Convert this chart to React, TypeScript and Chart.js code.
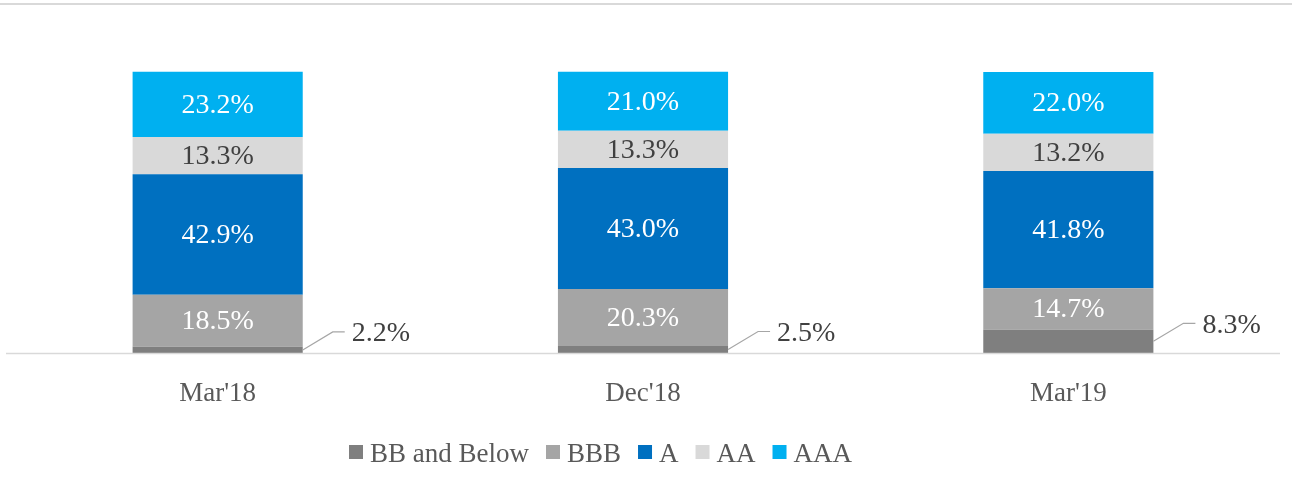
import React, { useEffect, useRef } from "react";
import { Chart, registerables } from "chart.js";
Chart.register(...registerables);

const categories = ["Mar'18", "Dec'18", "Mar'19"];
const seriesNames = ["BB and Below", "BBB", "A", "AA", "AAA"];
const bbAndBelow = [2.2, 2.5, 8.3];
const bbb = [18.5, 20.3, 14.7];
const ratingA = [42.9, 43.0, 41.8];
const ratingAA = [13.3, 13.3, 13.2];
const ratingAAA = [23.2, 21.0, 22.0];

const seriesValues = [bbAndBelow, bbb, ratingA, ratingAA, ratingAAA];
const seriesColors = ["#7f7f7f", "#a5a5a5", "#0070c0", "#d9d9d9", "#00b0f0"];
const labelColors = ["#404040", "#ffffff", "#ffffff", "#404040", "#ffffff"];

const FONT_FAMILY = '"Liberation Serif", "Times New Roman", serif';
const FONT_SIZE = 27;
const LABEL_FONT_SIZE = 28;

const decorPlugin = {
  id: "decor",
  beforeDraw(chart: any) {
    const ctx = chart.ctx;
    ctx.save();
    ctx.strokeStyle = "#d9d9d9";
    ctx.lineWidth = 2;
    ctx.beginPath();
    ctx.moveTo(0, 4);
    ctx.lineTo(chart.width, 4);
    ctx.stroke();
    ctx.restore();
  },
  afterDatasetsDraw(chart: any) {
    const ctx = chart.ctx;
    const area = chart.chartArea;
    ctx.save();
    // baseline
    ctx.strokeStyle = "#d9d9d9";
    ctx.lineWidth = 1.5;
    ctx.beginPath();
    ctx.moveTo(6, area.bottom + 0.5);
    ctx.lineTo(1280, area.bottom + 0.5);
    ctx.stroke();

    ctx.font = `${LABEL_FONT_SIZE}px ${FONT_FAMILY}`;
    chart.data.datasets.forEach((ds: any, di: number) => {
      const meta = chart.getDatasetMeta(di);
      meta.data.forEach((bar: any, i: number) => {
        const { x, y, base, width } = bar.getProps(["x", "y", "base", "width"], true);
        const v = ds.data[i] as number;
        const txt = v.toFixed(1) + "%";
        const mid = (y + base) / 2;
        ctx.fillStyle = labelColors[di];
        if (di === 0) {
          const rx = x + width / 2;
          const ly = mid - 18;
          ctx.strokeStyle = "#a6a6a6";
          ctx.lineWidth = 1.2;
          ctx.beginPath();
          ctx.moveTo(rx, mid);
          ctx.lineTo(rx + 30, ly);
          ctx.lineTo(rx + 42, ly);
          ctx.stroke();
          ctx.textAlign = "left";
          ctx.textBaseline = "middle";
          ctx.fillText(txt, rx + 49, ly + 2);
        } else {
          ctx.textAlign = "center";
          ctx.textBaseline = "middle";
          ctx.fillText(txt, x, mid + 1);
        }
      });
    });

    // legend
    ctx.font = `${FONT_SIZE}px ${FONT_FAMILY}`;
    let lx = 349;
    const boxSize = 14;
    const baseY = 462;
    ctx.textAlign = "left";
    ctx.textBaseline = "alphabetic";
    chart.data.datasets.forEach((ds: any, di: number) => {
      ctx.fillStyle = seriesColors[di];
      ctx.fillRect(lx, baseY - 17, boxSize, boxSize);
      ctx.fillStyle = "#595959";
      ctx.fillText(ds.label, lx + 21, baseY);
      const w = ctx.measureText(ds.label).width;
      lx += 21 + w + 17;
    });
    ctx.restore();
  },
};

export default function App() {
  const ref = useRef<HTMLCanvasElement | null>(null);
  useEffect(() => {
    if (!ref.current) return;
    const chart = new Chart(ref.current, {
      type: "bar",
      data: {
        labels: categories,
        datasets: seriesNames.map((name, i) => ({
          label: name,
          data: seriesValues[i],
          backgroundColor: seriesColors[i],
          borderWidth: 0,
          categoryPercentage: 1,
          barPercentage: 0.4,
          clip: false as any,
        })),
      },
      options: {
        animation: false,
        responsive: true,
        maintainAspectRatio: false,
        layout: { padding: { left: 5, right: 11, top: 72, bottom: 0 } },
        plugins: { legend: { display: false }, tooltip: { enabled: false } },
        scales: {
          x: {
            stacked: true,
            grid: { display: false, drawTicks: false },
            border: { display: false },
            ticks: {
              color: "#595959",
              font: { family: FONT_FAMILY, size: FONT_SIZE },
              padding: 25,
            },
            afterFit: (scale: any) => {
              scale.height = 139;
            },
          },
          y: {
            stacked: true,
            display: false,
            min: 0,
            max: 100,
          },
        },
      },
      plugins: [decorPlugin],
    });
    return () => chart.destroy();
  }, []);
  return (
    <div style={{ position: "absolute", left: 0, top: 0, width: 1292, height: 492, background: "#fff" }}>
      <canvas ref={ref} />
    </div>
  );
}
